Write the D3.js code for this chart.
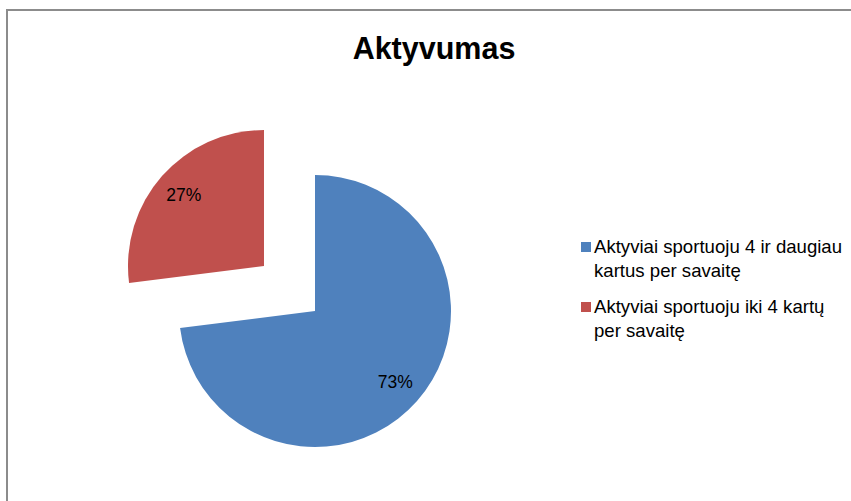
<!DOCTYPE html>
<html>
<head>
<meta charset="utf-8">
<script src="https://cdn.jsdelivr.net/npm/d3@7"></script>
<style>
  body { margin: 0; background: #fff; }
  text { font-family: "Liberation Sans", Arial, sans-serif; }
</style>
</head>
<body>
<div id="chart"></div>
<script>
"use strict";

/* DATA */

// slice names as they appear in the legend (two lines each)
let categories = [
    ["Aktyviai sportuoju 4 ir daugiau", "kartus per savaitę"],
    ["Aktyviai sportuoju iki 4 kartų", "per savaitę"]
];
let values = [73, 27];
let labels = ["73%", "27%"];
let colors = ["#4F81BD", "#C0504D"];
// which slice is pulled out
let exploded = [0, 0.5];

/* SVG SETUP */

let svgWidth = 851;
let svgHeight = 501;

let svg = d3.select("#chart")
    .append("svg")
    .attr("width", svgWidth)
    .attr("height", svgHeight);

// chart frame (runs off the right and bottom)
svg.append("rect")
    .attr("x", 7)
    .attr("y", 10)
    .attr("width", 900)
    .attr("height", 600)
    .attr("fill", "none")
    .attr("stroke", "#8c8c8c")
    .attr("stroke-width", 2);

// title
svg.append("text")
    .attr("x", 434)
    .attr("y", 59)
    .attr("text-anchor", "middle")
    .attr("font-size", "30.5px")
    .attr("font-weight", "bold")
    .text("Aktyvumas");

/* PIE */

let cx = 315;
let cy = 311;
let radius = 136;

let pie = d3.pie().sort(null).value(d => d);
let arcs = pie(values);

let arc = d3.arc().innerRadius(0).outerRadius(radius);
let labelArc = d3.arc().innerRadius(107).outerRadius(107);

let pieGroup = svg.append("g")
    .attr("transform", "translate(" + cx + "," + cy + ")");

let slices = pieGroup.selectAll("g.slice")
    .data(arcs)
    .enter()
    .append("g")
    .attr("class", "slice")
    .attr("transform", function (d, i) {
        let mid = (d.startAngle + d.endAngle) / 2;
        let off = exploded[i] * radius;
        return "translate(" + (Math.sin(mid) * off) + "," + (-Math.cos(mid) * off) + ")";
    });

slices.append("path")
    .attr("d", arc)
    .attr("fill", (d, i) => colors[i]);

// percent labels
slices.append("text")
    .attr("transform", d => "translate(" + labelArc.centroid(d) + ")")
    .attr("dy", "0.35em")
    .attr("text-anchor", "middle")
    .attr("font-size", "17.5px")
    .attr("fill", "#000")
    .text((d, i) => labels[i]);

/* LEGEND */

let legendX = 581;
let legendY = 242;
let legendStep = 60;

let legend = svg.selectAll("g.legend")
    .data(categories)
    .enter()
    .append("g")
    .attr("class", "legend")
    .attr("transform", (d, i) => "translate(" + legendX + "," + (legendY + i * legendStep) + ")");

legend.append("rect")
    .attr("width", 10)
    .attr("height", 10)
    .attr("fill", (d, i) => colors[i]);

legend.append("text")
    .attr("x", 13)
    .attr("y", 11)
    .attr("font-size", "18.6px")
    .attr("fill", "#000")
    .selectAll("tspan")
    .data(d => d)
    .enter()
    .append("tspan")
    .attr("x", 13)
    .attr("dy", (d, i) => i === 0 ? 0 : 24)
    .text(d => d);
</script>
</body>
</html>
